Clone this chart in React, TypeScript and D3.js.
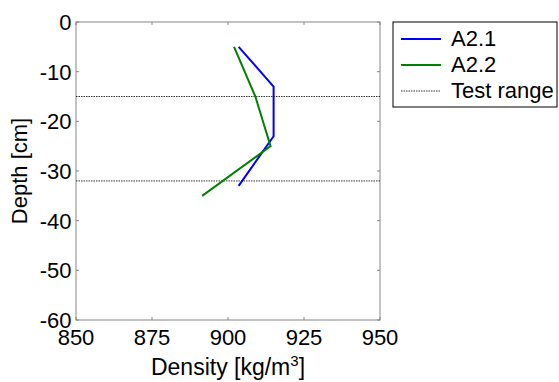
import React from 'react';
import * as d3 from 'd3';

const xTicks = [850, 875, 900, 925, 950];
const yTicks = [0, -10, -20, -30, -40, -50, -60];
const testRange = [-15, -32];
const seriesA21 = [
  { density: 903.5, depth: -5 },
  { density: 915, depth: -13 },
  { density: 915, depth: -23 },
  { density: 903.5, depth: -33 },
];
const seriesA22 = [
  { density: 902, depth: -5 },
  { density: 909, depth: -15 },
  { density: 914, depth: -25 },
  { density: 891.5, depth: -35 },
];
const legendItems = [
  { label: 'A2.1', color: '#0000ff', dash: '' },
  { label: 'A2.2', color: '#008000', dash: '' },
  { label: 'Test range', color: '#000', dash: '1.5,1' },
];

export default function App() {
  const width = 559;
  const height = 382;
  const margin = { top: 22, right: 179, bottom: 62, left: 76 };

  const x = d3.scaleLinear().domain([850, 950]).range([margin.left, width - margin.right]);
  const y = d3.scaleLinear().domain([-60, 0]).range([height - margin.bottom, margin.top]);

  const line = d3.line<{ density: number; depth: number }>()
    .x(d => x(d.density))
    .y(d => y(d.depth));

  const axisColor = '#868686';
  const font = "'Liberation Sans', Arial, sans-serif";

  return (
    <svg width={width} height={height} style={{ position: 'absolute', left: 0, top: 0, background: '#fff' }} fontFamily={font}>
      <rect x={x(850)} y={y(0)} width={x(950) - x(850)} height={y(-60) - y(0)} fill="#fff" stroke={axisColor} strokeWidth={1} />
      {xTicks.map(t => (
        <g key={t}>
          <line x1={x(t)} x2={x(t)} y1={y(-60)} y2={y(-60) - 3} stroke={axisColor} />
          <line x1={x(t)} x2={x(t)} y1={y(0)} y2={y(0) + 3} stroke={axisColor} />
          <text x={x(t)} y={y(-60) + 25} fontSize={22} textAnchor="middle">{t}</text>
        </g>
      ))}
      {yTicks.map(t => (
        <g key={t}>
          <line x1={x(850)} x2={x(850) + 3} y1={y(t)} y2={y(t)} stroke={axisColor} />
          <line x1={x(950)} x2={x(950) - 3} y1={y(t)} y2={y(t)} stroke={axisColor} />
          <text x={x(850) - 4.5} y={y(t) + 8} fontSize={22} textAnchor="end">{t}</text>
        </g>
      ))}
      {testRange.map(d => (
        <line key={d} x1={x(850)} x2={x(950)} y1={y(d)} y2={y(d)} stroke="#000" strokeWidth={0.8} strokeDasharray="1.5,1" />
      ))}
      <path d={line(seriesA21) ?? ''} fill="none" stroke="#0000ff" strokeWidth={2} />
      <path d={line(seriesA22) ?? ''} fill="none" stroke="#008000" strokeWidth={2} />
      <text x={(x(850) + x(950)) / 2} y={375} fontSize={23} textAnchor="middle">
        Density [kg/m<tspan dy={-9} fontSize={15}>3</tspan><tspan dy={9}>]</tspan>
      </text>
      <text transform={`translate(27,${(y(0) + y(-60)) / 2}) rotate(-90)`} fontSize={22} textAnchor="middle">Depth [cm]</text>
      <g>
        <rect x={393} y={22} width={164} height={85} fill="#fff" stroke="#000" strokeWidth={1} />
        {legendItems.map((item, i) => (
          <g key={item.label}>
            <line x1={401} x2={441} y1={39 + i * 26} y2={39 + i * 26} stroke={item.color} strokeWidth={item.dash ? 0.8 : 2} strokeDasharray={item.dash} />
            <text x={451} y={39 + i * 26 + 7} fontSize={22}>{item.label}</text>
          </g>
        ))}
      </g>
    </svg>
  );
}
